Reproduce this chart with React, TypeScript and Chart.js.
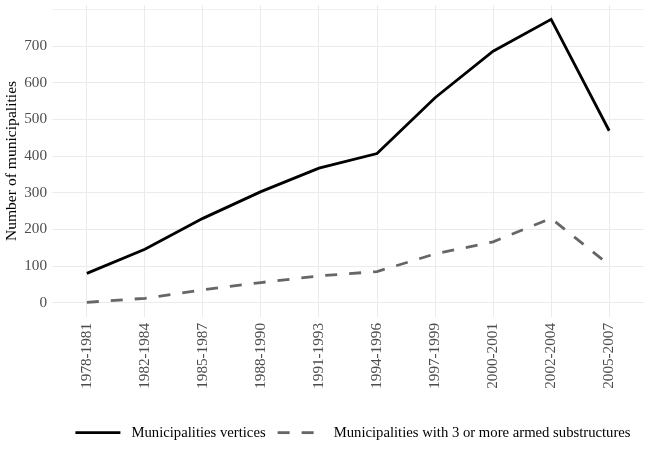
import React, { useEffect, useRef } from "react";
import { Chart, registerables } from "chart.js";

Chart.register(...registerables);

const periods = [
  "1978-1981",
  "1982-1984",
  "1985-1987",
  "1988-1990",
  "1991-1993",
  "1994-1996",
  "1997-1999",
  "2000-2001",
  "2002-2004",
  "2005-2007",
];
const verticesValues = [80, 146, 230, 303, 367, 407, 559, 686, 773, 469];
const armedValues = [1, 12, 35, 55, 73, 85, 133, 166, 230, 103];
const yTickValues = [0, 100, 200, 300, 400, 500, 600, 700];
const yGridValues = [0, 50, 100, 150, 200, 250, 300, 350, 400, 450, 500, 550, 600, 650, 700, 750, 800];
const seriesLabels = [
  "Municipalities vertices",
  "Municipalities with 3 or more armed substructures",
];
const yTitle = "Number of municipalities";

const FONT = "'Liberation Serif', 'DejaVu Serif', serif";
const TICK_COLOR = "#4d4d4d";
const GRID_COLOR = "#ebebeb";

export default function App() {
  const ref = useRef<HTMLCanvasElement>(null);

  useEffect(() => {
    document.body.style.margin = "0";
    const shiftLegend = {
      id: "shiftLegend",
      afterLayout(chart: any) {
        const lg = chart.legend;
        const ca = chart.chartArea;
        if (!lg || !ca) return;
        const dx = (ca.left + ca.right) / 2 - (lg.left + lg.right) / 2 + 5;
        lg.left += dx;
        lg.right += dx;
      },
    };
    const chart = new Chart(ref.current!, {
      type: "line",
      data: {
        datasets: [
          {
            label: seriesLabels[0],
            data: verticesValues.map((y, i) => ({ x: i, y })),
            borderColor: "#000000",
            backgroundColor: "#000000",
            borderWidth: 2.8,
            pointRadius: 0,
            tension: 0,
          },
          {
            label: seriesLabels[1],
            data: armedValues.map((y, i) => ({ x: i, y })),
            borderColor: "#666666",
            backgroundColor: "#666666",
            borderWidth: 2.8,
            borderDash: [12, 12],
            pointRadius: 0,
            tension: 0,
          },
        ],
      },
      options: {
        animation: false,
        responsive: false,
        maintainAspectRatio: false,
        layout: { padding: { left: 3, right: 6, top: 5, bottom: 0 } },
        scales: {
          x: {
            type: "linear",
            min: -0.6,
            max: 9.6,
            afterBuildTicks: (axis: any) => {
              axis.ticks = periods.map((_, i) => ({ value: i }));
            },
            afterFit: (s: any) => {
              s.height = 96.3;
              s.paddingLeft = 0;
              s.paddingRight = 0;
              s.paddingTop = 0;
              s.paddingBottom = 0;
            },
            ticks: {
              callback: (v: any) => periods[v as number] ?? "",
              minRotation: 90,
              maxRotation: 90,
              autoSkip: false,
              padding: 6,
              color: TICK_COLOR,
              font: { family: FONT, size: 15.2 },
            },
            grid: { color: GRID_COLOR, lineWidth: 1, drawTicks: false },
            border: { display: false },
          },
          y: {
            type: "linear",
            min: -39,
            max: 812,
            afterBuildTicks: (axis: any) => {
              axis.ticks = yGridValues.map((v) => ({ value: v }));
            },
            afterFit: (s: any) => {
              s.width = 49;
              s.paddingLeft = 0;
              s.paddingRight = 0;
              s.paddingTop = 0;
              s.paddingBottom = 0;
            },
            ticks: {
              callback: (v: any) => (yTickValues.includes(v as number) ? String(v) : ""),
              padding: 5,
              color: TICK_COLOR,
              font: { family: FONT, size: 15.2 },
            },
            grid: {
              color: GRID_COLOR,
              lineWidth: (ctx: any) =>
                yTickValues.includes(ctx.tick?.value) ? 1 : 0.7,
              drawTicks: false,
            },
            border: { display: false },
            title: {
              display: true,
              text: yTitle,
              color: "#000000",
              font: { family: FONT, size: 15.6 },
              padding: { top: 0, bottom: 0 },
            },
          },
        },
        plugins: {
          legend: {
            position: "bottom",
            align: "center",
            labels: {
              usePointStyle: true,
              pointStyleWidth: 45,
              padding: 12,
              color: "#000000",
              font: { family: FONT, size: 14.7 },
              generateLabels: (c: any) =>
                c.data.datasets.map((ds: any, i: number) => ({
                  text: " " + ds.label,
                  fillStyle: ds.borderColor,
                  strokeStyle: ds.borderColor,
                  lineWidth: 2.8,
                  lineDash: ds.borderDash || [],
                  lineCap: "butt",
                  pointStyle: "line",
                  hidden: false,
                  datasetIndex: i,
                  fontColor: "#000000",
                })),
            },
          },
          tooltip: { enabled: false },
        },
      },
      plugins: [shiftLegend],
    } as any);
    return () => chart.destroy();
  }, []);

  return (
    <div style={{ width: 650, height: 450 }}>
      <canvas ref={ref} width={650} height={450} style={{ display: "block" }} />
    </div>
  );
}
